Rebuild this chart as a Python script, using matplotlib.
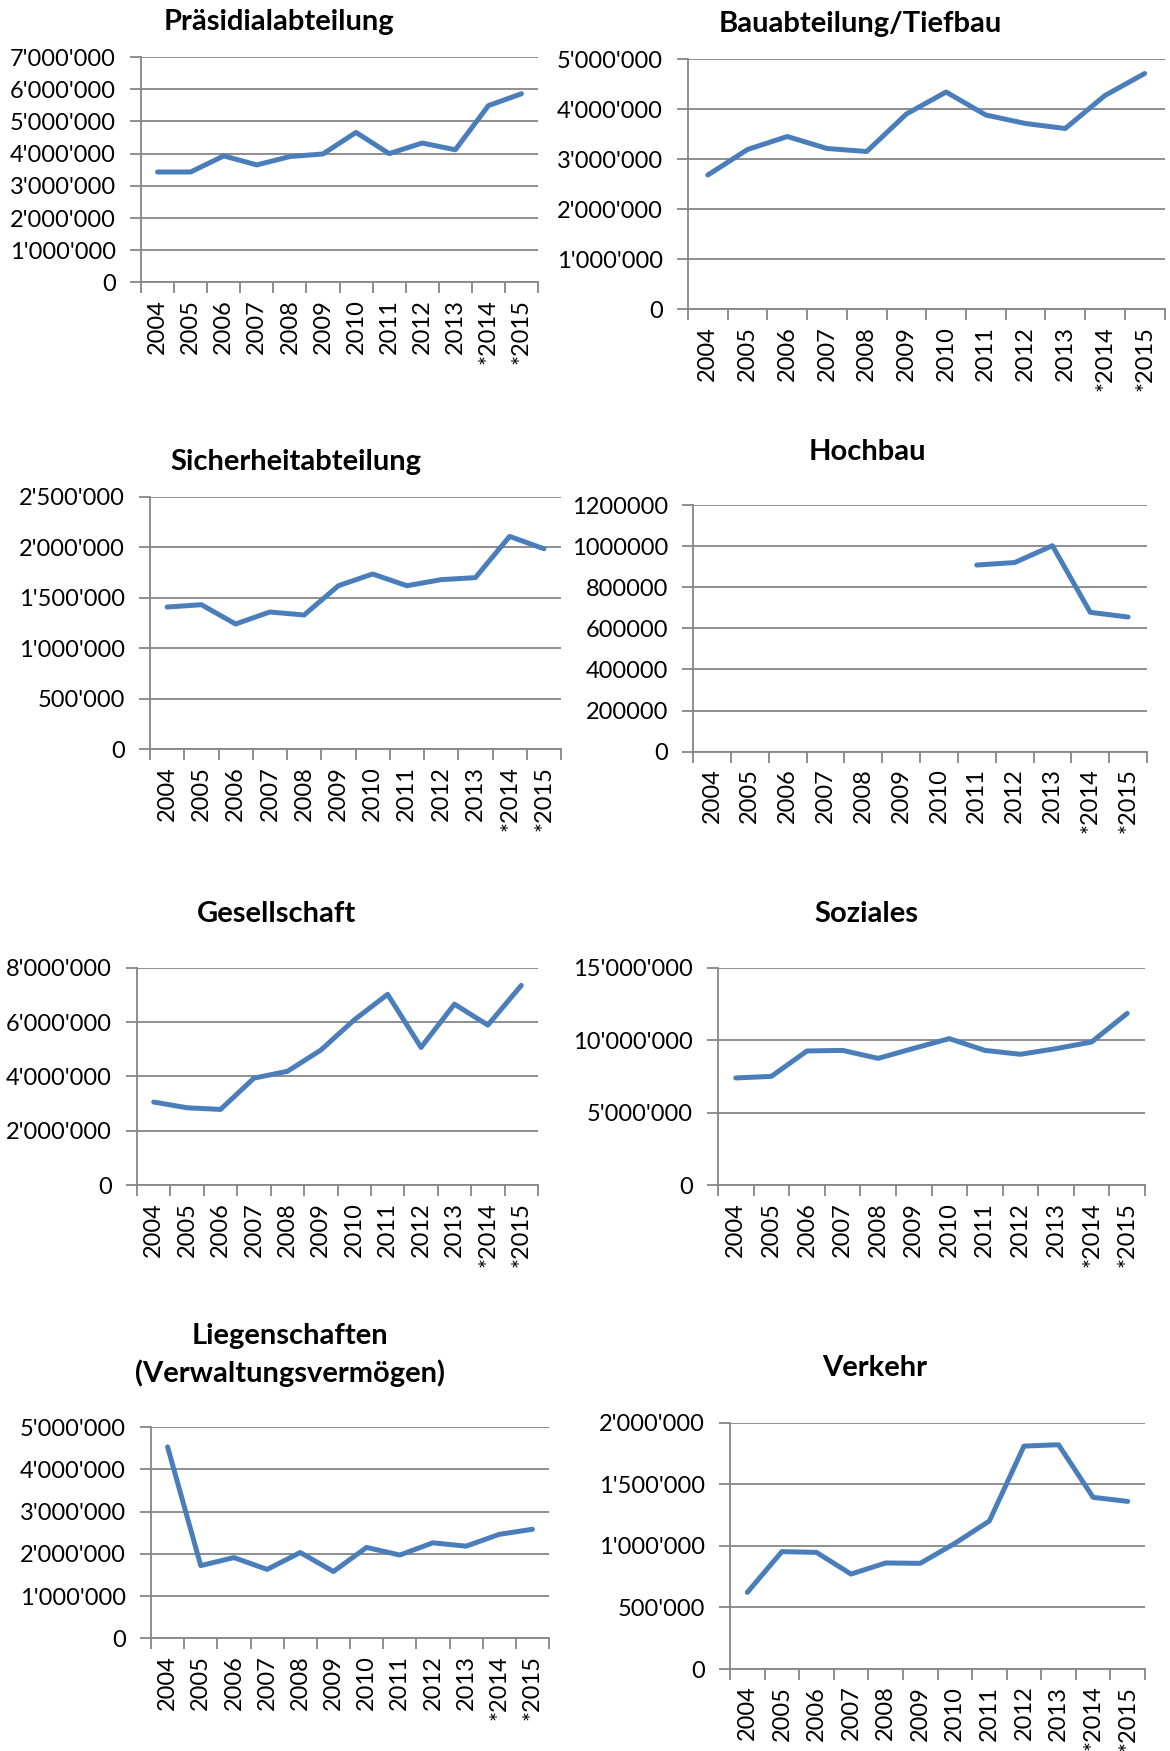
import numpy as np
import matplotlib
matplotlib.use("Agg")
import matplotlib.pyplot as plt
from matplotlib.ticker import FuncFormatter

plt.rcParams["font.family"] = ["Lato", "DejaVu Sans"]

years = ["2004", "2005", "2006", "2007", "2008", "2009",
         "2010", "2011", "2012", "2013", "*2014", "*2015"]

# values (CHF)
praesidial = [3.43e6, 3.43e6, 3.93e6, 3.65e6, 3.91e6, 3.99e6,
              4.66e6, 4.00e6, 4.33e6, 4.12e6, 5.49e6, 5.86e6]
tiefbau = [2.69e6, 3.20e6, 3.46e6, 3.22e6, 3.16e6, 3.91e6,
           4.35e6, 3.89e6, 3.72e6, 3.62e6, 4.28e6, 4.72e6]
sicherheit = [1.408e6, 1.431e6, 1.240e6, 1.359e6, 1.329e6, 1.619e6,
              1.735e6, 1.619e6, 1.679e6, 1.699e6, 2.107e6, 1.985e6]
hochbau = [np.nan, np.nan, np.nan, np.nan, np.nan, np.nan,
           np.nan, 908e3, 920e3, 1002e3, 678e3, 655e3]
gesellschaft = [3.06e6, 2.85e6, 2.79e6, 3.94e6, 4.19e6, 4.97e6,
                6.08e6, 7.02e6, 5.07e6, 6.66e6, 5.89e6, 7.35e6]
soziales = [7.40e6, 7.51e6, 9.26e6, 9.30e6, 8.75e6, 9.44e6,
            10.11e6, 9.30e6, 9.03e6, 9.42e6, 9.88e6, 11.85e6]
liegenschaften = [4.53e6, 1.72e6, 1.91e6, 1.63e6, 2.03e6, 1.58e6,
                  2.15e6, 1.97e6, 2.26e6, 2.18e6, 2.46e6, 2.58e6]
verkehr = [0.622e6, 0.953e6, 0.947e6, 0.771e6, 0.861e6, 0.858e6,
           1.020e6, 1.202e6, 1.810e6, 1.821e6, 1.394e6, 1.361e6]

W, H = 1170, 1751
blue = "#4A7EBB"
gray = "#868686"

fig = plt.figure(figsize=(W / 100, H / 100), dpi=100)


def swiss(v, pos):
    return "{:,}".format(int(round(v))).replace(",", "'")


def plain(v, pos):
    return str(int(round(v)))


def panel(box, values, ymax, step, title, title_xy, fmt=swiss):
    l, t, r, b = box
    ax = fig.add_axes([l / W, 1 - b / H, (r - l) / W, (b - t) / H])
    x = np.arange(len(years)) + 0.5
    ax.plot(x, values, color=blue, lw=3.6, solid_capstyle="round")
    ax.set_xlim(0, len(years))
    ax.set_ylim(0, ymax)
    ax.set_yticks(np.arange(0, ymax + step / 2, step))
    ax.yaxis.set_major_formatter(FuncFormatter(fmt))
    ax.set_xticks(np.arange(len(years) + 1))
    ax.set_xticklabels([])
    ax.set_xticks(x, minor=True)
    ax.set_xticklabels(years, minor=True, rotation=90)
    ax.tick_params(axis="x", which="major", length=8, width=1.3, color=gray)
    ax.tick_params(axis="x", which="minor", length=0, pad=12, labelsize=17)
    ax.tick_params(axis="y", length=8, width=1.3, color=gray, pad=10, labelsize=17)
    ax.yaxis.grid(True, color=gray, lw=1.3)
    ax.set_axisbelow(True)
    for s in ["top", "right"]:
        ax.spines[s].set_visible(False)
    for s in ["left", "bottom"]:
        ax.spines[s].set_color(gray)
        ax.spines[s].set_linewidth(1.3)
    fig.text(title_xy[0] / W, 1 - title_xy[1] / H, title, ha="center",
             va="center", fontsize=21, fontweight="bold", linespacing=1.45)
    return ax


panel((141, 57, 538, 282.5), praesidial, 7e6, 1e6,
      "Präsidialabteilung", (279, 22))
panel((688, 59.5, 1164.5, 309.5), tiefbau, 5e6, 1e6,
      "Bauabteilung/Tiefbau", (860, 24))
panel((150, 496.7, 561, 749.3), sicherheit, 2.5e6, 0.5e6,
      "Sicherheitabteilung", (296, 462))
panel((693, 505, 1147, 751.7), hochbau, 1.2e6, 0.2e6,
      "Hochbau", (867, 452), fmt=plain)
panel((137, 967.7, 538, 1185.3), gesellschaft, 8e6, 2e6,
      "Gesellschaft", (277, 914))
panel((718, 967.7, 1145, 1185.3), soziales, 15e6, 5e6,
      "Soziales", (866, 914))
panel((151, 1427, 549, 1638.3), liegenschaften, 5e6, 1e6,
      "Liegenschaften\n(Verwaltungsvermögen)", (290, 1355))
panel((730, 1422.7, 1145, 1669), verkehr, 2e6, 0.5e6,
      "Verkehr", (875, 1368))

plt.savefig("out.png", dpi=100)
